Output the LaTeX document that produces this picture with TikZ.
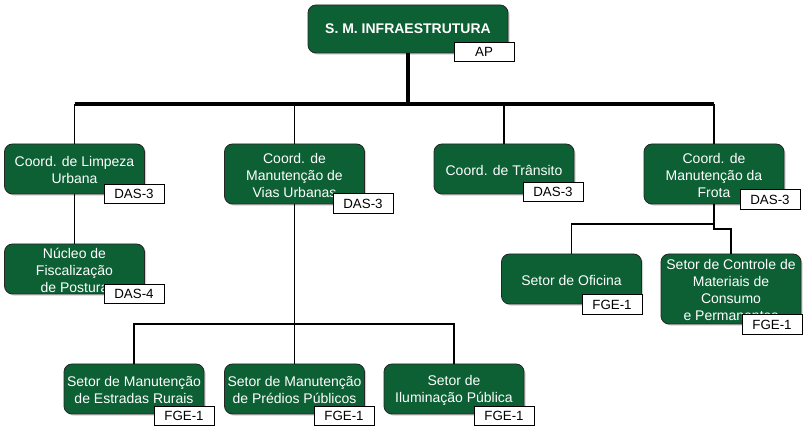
\documentclass[tikz,border=0pt]{standalone}
\usepackage{fontspec}
\setmainfont{Liberation Sans}
\usetikzlibrary{shadows}
\definecolor{boxgreen}{RGB}{12,96,52}
\begin{document}
\begin{tikzpicture}[x=0.75pt,y=-0.75pt,
  gbox/.style={draw=black!85, line width=0.6pt, fill=boxgreen, rounded corners=6pt,
    minimum width=105pt, minimum height=#1, inner sep=0pt,
    drop shadow={shadow xshift=1.2pt, shadow yshift=-1.2pt, opacity=0.3, fill=black!60}},
  gbox/.default=37.5pt,
  txt/.style={text=white, align=center, inner sep=0pt, font=\fontsize{10.5}{12.8}\selectfont},
  tag/.style={draw=black, line width=0.6pt, fill=white, minimum width=45pt, minimum height=14.5pt,
    inner sep=0pt, font=\fontsize{10}{12}\selectfont},
  heavy/.style={line width=2.6pt},
  light/.style={line width=0.8pt}]
\useasboundingbox (0,0) rectangle (808,427);

% boxes
\node[gbox=36pt, minimum width=150pt] (top) at (408,29) {};
\node[gbox] (l1) at (74.5,169) {};
\node[gbox=45pt] (l2) at (294.5,174) {};
\node[gbox] (l3) at (504,169) {};
\node[gbox=45pt] (l4) at (714,174) {};
\node[gbox] (n1) at (74.5,269) {};
\node[gbox] (s1) at (571.5,279) {};
\node[gbox=52.5pt] (s2) at (731,289) {};
\node[gbox] (e1) at (134,389) {};
\node[gbox] (e2) at (294.5,389) {};
\node[gbox] (e3) at (454,389) {};

% connectors
\coordinate (barL) at (74.5,104);
\coordinate (barR) at (714,104);
\draw[heavy] (top.south) -- (top.south |- barL);
\draw[heavy] (barL) -- (barR);
\foreach \n in {l1,l2,l3,l4} \draw[light] (\n.north) -- (\n.north |- barL);
\draw[light] (l1.south) -- (n1.north);
\coordinate (vj) at (294.5,324);
\draw[light] (l2.south) -- (vj);
\draw[light] (e1.north) |- (vj) -| (e3.north);
\draw[light] (vj) -- (e2.north);
\coordinate (fa) at (714,224);
\coordinate (fb) at (714,229);
\draw[light] (l4.south) -- (fb) -| (s2.north);
\draw[light] (fa) -| (s1.north);

% texts
\node[txt, font=\fontsize{10.5}{12.8}\selectfont\bfseries] (ttop) at (top) {S. M. INFRAESTRUTURA};
\node[txt] (tl1) at ([yshift=-1pt]l1.center) {Coord. de Limpeza\\Urbana};
\node[txt] (tl2) at ([yshift=-1pt]l2.center) {Coord. de\\Manutenção de\\Vias Urbanas};
\node[txt] (tl3) at ([yshift=-1pt]l3.center) {Coord. de Trânsito};
\node[txt] (tl4) at ([yshift=-1pt]l4.center) {Coord. de\\Manutenção da\\Frota};
\node[txt] (tn1) at ([yshift=-1pt]n1.center) {Núcleo de\\Fiscalização\\de Postura};
\node[txt] (ts1) at ([yshift=-1pt]s1.center) {Setor de Oficina};
\node[txt] (ts2) at ([yshift=-1pt]s2.center) {Setor de Controle de\\Materiais de\\Consumo\\e Permanentes};
\node[txt] (te1) at ([yshift=-1pt]e1.center) {Setor de Manutenção\\de Estradas Rurais};
\node[txt] (te2) at ([yshift=-1pt]e2.center) {Setor de Manutenção\\de Prédios Públicos};
\node[txt] (te3) at ([yshift=-1pt]e3.center) {Setor de\\Iluminação Pública};

% tags
\node[tag] (gtop) at (484,52) {AP};
\node[tag] (gl1) at (134,194) {DAS-3};
\node[tag] (gl2) at (363,203.5) {DAS-3};
\node[tag] (gl3) at (553,192) {DAS-3};
\node[tag] (gl4) at (770,199.5) {DAS-3};
\node[tag] (gn1) at (134,294) {DAS-4};
\node[tag] (gs1) at (612,304.5) {FGE-1};
\node[tag] (gs2) at (772,324.5) {FGE-1};
\node[tag] (ge1) at (184,416) {FGE-1};
\node[tag] (ge2) at (344,416) {FGE-1};
\node[tag] (ge3) at (504,416) {FGE-1};
\end{tikzpicture}
\end{document}
